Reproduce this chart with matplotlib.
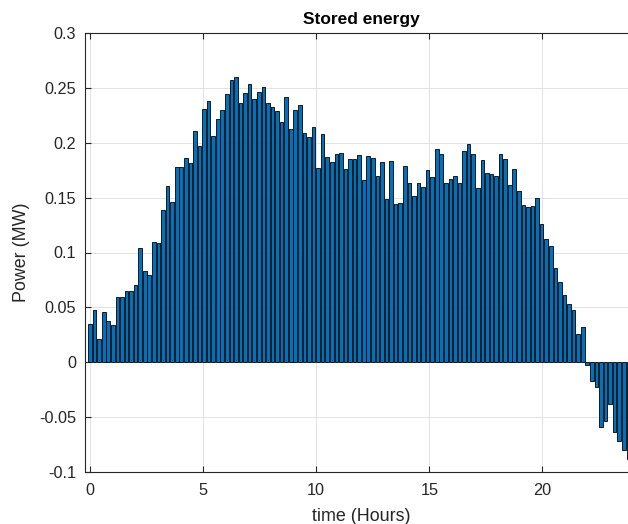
import numpy as np
import matplotlib
matplotlib.use("Agg")
import matplotlib.pyplot as plt

# ---- data ----
power_mw = [
    0.0347, 0.0471, 0.0210, 0.0453, 0.0371, 0.0338, 0.0593, 0.0593, 0.0645, 0.0651,
    0.0703, 0.1037, 0.0830, 0.0794, 0.1092, 0.1086, 0.1390, 0.1606, 0.1463, 0.1776,
    0.1779, 0.1858, 0.1816, 0.2105, 0.1971, 0.2308, 0.2384, 0.2062, 0.2220, 0.2296,
    0.2445, 0.2570, 0.2600, 0.2363, 0.2454, 0.2536, 0.2402, 0.2460, 0.2509, 0.2360,
    0.2323, 0.2290, 0.2190, 0.2421, 0.2126, 0.2302, 0.2345, 0.2089, 0.2053, 0.2144,
    0.1773, 0.2080, 0.1867, 0.1828, 0.1898, 0.1904, 0.1761, 0.1852, 0.1852, 0.1889,
    0.1664, 0.1877, 0.1861, 0.1694, 0.1825, 0.1487, 0.1834, 0.1442, 0.1454, 0.1788,
    0.1633, 0.1518, 0.1636, 0.1597, 0.1749, 0.1685, 0.1947, 0.1898, 0.1633, 0.1670,
    0.1694, 0.1636, 0.1922, 0.1986, 0.1895, 0.1585, 0.1840, 0.1724, 0.1718, 0.1694,
    0.1901, 0.1852, 0.1618, 0.1761, 0.1563, 0.1436, 0.1414, 0.1426, 0.1499, 0.1262,
    0.1125, 0.1055, 0.0861, 0.0733, 0.0614, 0.0529, 0.0474, 0.0259, 0.0322, -0.0030,
    -0.0176, -0.0228, -0.0593, -0.0541, -0.0383, -0.0636, -0.0724, -0.0806, -0.0885,
]
hour_step = 24 / 119
hours = [i * hour_step for i in range(len(power_mw))]

x_ticks = [0, 5, 10, 15, 20]
y_ticks = [-0.1, -0.05, 0, 0.05, 0.1, 0.15, 0.2, 0.25, 0.3]
y_tick_labels = ["-0.1", "-0.05", "0", "0.05", "0.1", "0.15", "0.2", "0.25", "0.3"]

title_text = "Stored energy"
x_label = "time (Hours)"
y_label = "Power (MW)"

# ---- style ----
plt.rcParams["font.family"] = ["Liberation Sans", "DejaVu Sans"]
axis_col = "#262626"

W, H = 628, 524
fig = plt.figure(figsize=(W / 100, H / 100), dpi=100, facecolor="white")
left_px, right_px, top_px, bottom_px = 84.7, 638.2, 33.3, 471.7
ax = fig.add_axes([left_px / W, 1 - bottom_px / H,
                   (right_px - left_px) / W, (bottom_px - top_px) / H])

ax.bar(hours, power_mw, width=0.8 * hour_step, color="#0072BD",
       edgecolor="black", linewidth=0.6, zorder=2)

ax.set_xlim(-0.234, 24.234)
ax.set_ylim(-0.1, 0.3)
ax.set_xticks(x_ticks)
ax.set_xticklabels([str(t) for t in x_ticks])
ax.set_yticks(y_ticks)
ax.set_yticklabels(y_tick_labels)

ax.set_axisbelow(True)
ax.grid(True, color="#e2e2e2", linewidth=0.7)

for s in ax.spines.values():
    s.set_color(axis_col)
    s.set_linewidth(0.8)

ax.tick_params(axis="both", direction="in", length=4, width=0.8,
               color=axis_col, labelcolor=axis_col, labelsize=11.7,
               top=True, right=True)
ax.tick_params(axis="x", pad=8)
ax.tick_params(axis="y", pad=6)

ax.set_title(title_text, fontsize=12.5, fontweight="bold", color="black", pad=7)
ax.set_xlabel(x_label, fontsize=12.9, color=axis_col, labelpad=7)
ax.set_ylabel(y_label, fontsize=12.9, color=axis_col, labelpad=7)

fig.savefig("out.png", dpi=100, facecolor="white")
